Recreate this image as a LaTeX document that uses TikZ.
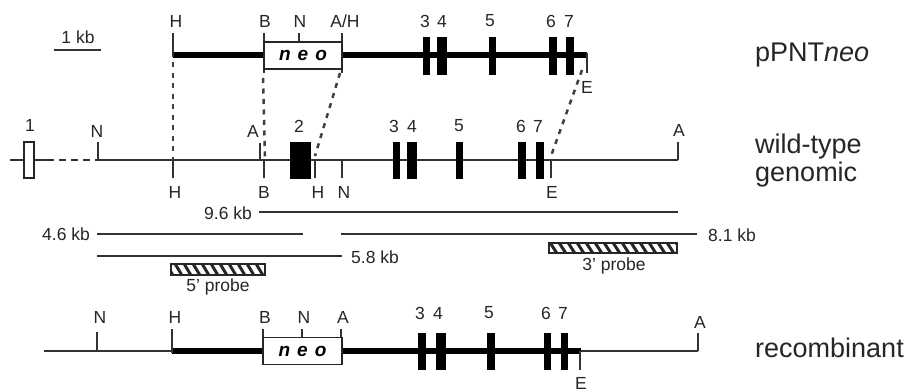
\documentclass[tikz,border=0pt]{standalone}
\usepackage{fontspec}
\setmainfont{Liberation Sans}
\newcommand{\neoword}{\fontsize{19}{20}\selectfont\itshape\bfseries n\hspace{7pt}e\hspace{7pt}o}
\begin{document}
\begin{tikzpicture}[x=1pt,y=-1pt,
  lab/.style={inner sep=0pt,text=black!85,font=\fontsize{17.5}{18}\selectfont},
  side/.style={inner sep=0pt,anchor=base west,text=black!85,align=left,font=\fontsize{27}{27}\selectfont},
  thin line/.style={line width=1.6pt,draw=black!80},
  thick line/.style={line width=5.4pt,draw=black},
  tick/.style={line width=1.3pt,draw=black!80},
  exon/.style={fill=black,draw=none},
  neobox/.style={draw=black!85,line width=1.4pt,fill=white},
  link/.style={line width=2.5pt,draw=black!75,dash pattern=on 5pt off 5.5pt},
  probe/.style={draw=black!85,line width=1.5pt}]
\useasboundingbox (0,0) rectangle (913,391);
\fill[white] (0,0) rectangle (913,391);
% scale bar
\node[lab] (kb) at (78,37) {1 kb};
\coordinate (sa) at (54,50); \coordinate (sb) at (101,50);
\draw[thin line] (sa) -- (sb);
% --- pPNTneo ---
\coordinate (tH) at (173,55); \coordinate (tBx) at (264,55);
\coordinate (tAx) at (342,55); \coordinate (tEnd) at (587,55);
\draw[thick line] (tH) -- (tBx);
\draw[thick line] (tAx) -- (tEnd);
\draw[tick] (173,33) -- (173,57);
\draw[tick] (264,33) -- (264,73);
\draw[tick] (299,33) -- (299,42);
\draw[tick] (342,33) -- (342,73);
\draw[tick] (587,53) -- (587,73);
\node[neobox,minimum width=78pt,minimum height=27pt,inner sep=0pt] (neoA) at (303,55.5) {\neoword};
\foreach \a/\b in {423/430,437/447,489/496,549/557,566/574} \fill[exon] (\a,37) rectangle (\b,75);
\foreach \t/\x in {H/176,B/265,N/300,A\slash H/345,3/425,4/442,5/490,6/551,7/569} \node[lab] at (\x,21) {\t};
\node[lab] (tE) at (587,87) {E};
\node[side] (s1) at (755,61.7) {pPNT\textit{neo}};
% --- wild type ---
\coordinate (wS) at (10,160); \coordinate (wSb) at (47,160);
\coordinate (wN) at (98,160); \coordinate (wA) at (678,160);
\draw[thin line] (wS) -- (wSb);
\draw[thin line,dash pattern=on 7pt off 5pt] (wSb) -- (wN);
\draw[thin line] (wN) -- (wA);
\node[draw=black!85,line width=1.4pt,fill=white,minimum width=10pt,minimum height=36pt,inner sep=0pt] (ex1) at (29,160) {};
\draw[tick] (98,142) -- (98,160);
\draw[tick] (260,143) -- (260,160);
\draw[tick] (678,142) -- (678,160);
\foreach \x in {173,264,315,342,551} \draw[tick] (\x,160) -- (\x,178);
\fill[exon] (290,142) rectangle (311,179);
\foreach \a/\b in {393/400,407/417,456/463,518/526,536/544} \fill[exon] (\a,142) rectangle (\b,179);
\foreach \t/\x/\y in {1/30/125,N/97/131,A/253/131,2/299/126,3/394/126,4/412/126,5/459/126,6/521/126,7/538/126,A/679/130} \node[lab] at (\x,\y) {\t};
\foreach \t/\x in {H/175,B/264,H/318,N/344,E/552} \node[lab] at (\x,192) {\t};
\node[side] (s2) at (755,153) {wild-type};
\node[side] (s3) at (755,181.7) {genomic};
% --- dashed links ---
\coordinate (d1a) at (173,62); \coordinate (d1b) at (173,160);
\coordinate (d2a) at (263,78); \coordinate (d2b) at (265,158);
\coordinate (d3a) at (340,73); \coordinate (d3b) at (315,156);
\coordinate (d4a) at (582,70); \coordinate (d4b) at (551,156);
\draw[link] (d1a) -- (d1b);
\draw[link] (d2a) -- (d2b);
\draw[link] (d3a) -- (d3b);
\draw[link] (d4a) -- (d4b);
% --- fragments ---
\node[lab] (f96) at (228,213) {9.6 kb};
\node[lab] (f46) at (66,234.5) {4.6 kb};
\node[lab] (f81) at (732,235.5) {8.1 kb};
\node[lab] (f58) at (375,257) {5.8 kb};
\coordinate (g1a) at (259,212); \coordinate (g1b) at (678,212);
\coordinate (g2a) at (97,234); \coordinate (g2b) at (303,234);
\coordinate (g3a) at (341,234); \coordinate (g3b) at (697,234);
\coordinate (g4a) at (97,256); \coordinate (g4b) at (342,256);
\draw[thin line] (g1a) -- (g1b);
\draw[thin line] (g2a) -- (g2b);
\draw[thin line] (g3a) -- (g3b);
\draw[thin line] (g4a) -- (g4b);
% probes
\begin{scope}
\clip (171,264) rectangle (265,275);
\foreach \x in {165,174,...,275} \draw[line width=3pt,black!85] (\x,262) -- (\x+9,277);
\end{scope}
\draw[probe] (171,264) rectangle (265,275);
\begin{scope}
\clip (549,243) rectangle (677,253);
\foreach \x in {540,549,...,685} \draw[line width=3pt,black!85] (\x,241) -- (\x+9,255);
\end{scope}
\draw[probe] (549,243) rectangle (677,253);
\node[lab] (p5) at (218,287) {5' probe};
\node[lab] (p3) at (614,266) {3' probe};
% --- recombinant ---
\coordinate (rS) at (44,351); \coordinate (rH) at (172,351);
\coordinate (rB) at (263,351); \coordinate (rA) at (342,351);
\coordinate (rE) at (581,351); \coordinate (rEnd) at (698,351);
\draw[thin line] (rS) -- (rH);
\draw[thick line] (rH) -- (rB);
\draw[thick line] (rA) -- (rE);
\draw[thin line] (rE) -- (rEnd);
\draw[tick] (97,332) -- (97,351);
\draw[tick] (172,329) -- (172,353);
\draw[tick] (263,329) -- (263,338);
\draw[tick] (302,329) -- (302,338);
\draw[tick] (341,329) -- (341,338);
\draw[tick] (698,333) -- (698,351);
\draw[tick] (580,351) -- (580,370);
\node[neobox,minimum width=79pt,minimum height=27pt,inner sep=0pt] (neoB) at (302.5,351) {\neoword};
\foreach \a/\b in {418/426,436/446,487/495,544/551,561/568} \fill[exon] (\a,333) rectangle (\b,370);
\foreach \t/\x in {N/100,H/175,B/265,N/304,A/343} \node[lab] at (\x,317) {\t};
\foreach \t/\x in {3/420,4/438,5/489,6/546,7/563} \node[lab] at (\x,313) {\t};
\node[lab] (rAl) at (700,322) {A};
\node[lab] (rEl) at (581,383) {E};
\node[side] (s4) at (755,357.7) {recombinant};
\end{tikzpicture}
\end{document}
